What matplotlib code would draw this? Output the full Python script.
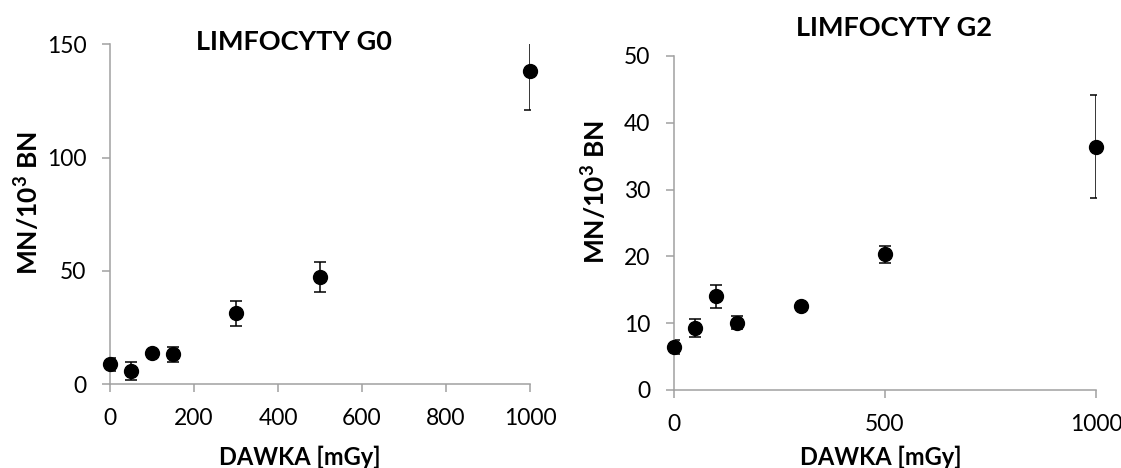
import matplotlib
matplotlib.use("Agg")
import matplotlib.pyplot as plt

plt.rcParams['font.family'] = ['Lato', 'DejaVu Sans']
plt.rcParams['mathtext.fontset'] = 'custom'
plt.rcParams['mathtext.rm'] = 'Lato'
plt.rcParams['mathtext.bf'] = 'Lato:bold'

dose = [0, 50, 100, 150, 300, 500, 1000]

g0_mean = [8.8, 5.9, 13.7, 13.2, 31.3, 47.2, 138.1]
g0_err = [2.9, 3.9, 1.0, 3.2, 5.6, 6.7, 17.0]

g2_mean = [6.4, 9.3, 14.0, 10.1, 12.6, 20.3, 36.4]
g2_err = [1.05, 1.3, 1.65, 1.0, 0.3, 1.3, 7.7]

W, H = 1121, 468
fig = plt.figure(figsize=(W / 100, H / 100), dpi=100)
grey = '#a0a0a0'


def panel(rect, x, y, err, ylim, yticks, xticks, title, title_xy, ylab_xy, xlab_xy):
    x0, y0, x1, y1 = rect
    ax = fig.add_axes([x0 / W, 1 - y1 / H, (x1 - x0) / W, (y1 - y0) / H])
    ax.errorbar(x, y, yerr=err, fmt='none', ecolor='black', elinewidth=1.1,
                capsize=4.5, capthick=1.1)
    ax.plot(x, y, 'o', color='black', markersize=10, clip_on=False, zorder=3)
    ax.set_xlim(0, 1000)
    ax.set_ylim(*ylim)
    ax.set_xticks(xticks)
    ax.set_yticks(yticks)
    for s in ['top', 'right']:
        ax.spines[s].set_visible(False)
    for s in ['left', 'bottom']:
        ax.spines[s].set_color(grey)
        ax.spines[s].set_linewidth(1.1)
    ax.tick_params(axis='both', colors=grey, labelcolor='black', labelsize=16.5,
                   length=6, width=1.1, direction='out')
    ax.tick_params(axis='x', pad=11)
    ax.tick_params(axis='y', pad=11)
    fig.text(ylab_xy[0] / W, 1 - ylab_xy[1] / H, r'MN/10$^{\mathbf{3}}$ BN', fontsize=19,
             fontweight='bold', rotation=90, ha='center', va='center')
    fig.text(xlab_xy[0] / W, 1 - xlab_xy[1] / H, 'DAWKA [mGy]', fontsize=17,
             fontweight='bold', ha='center', va='center')
    fig.text(title_xy[0] / W, 1 - title_xy[1] / H, title, fontsize=19.5,
             fontweight='bold', ha='center', va='center')
    return ax


panel((110, 44.3, 530, 384.3), dose, g0_mean, g0_err, (0, 150), [0, 50, 100, 150],
      [0, 200, 400, 600, 800, 1000], 'LIMFOCYTY G0', (294, 42), (27, 203), (300, 457))
panel((674, 56, 1096, 390), dose, g2_mean, g2_err, (0, 50), [0, 10, 20, 30, 40, 50],
      [0, 500, 1000], 'LIMFOCYTY G2', (894, 28), (594, 192), (881, 457))

fig.savefig('out.png', dpi=100)
